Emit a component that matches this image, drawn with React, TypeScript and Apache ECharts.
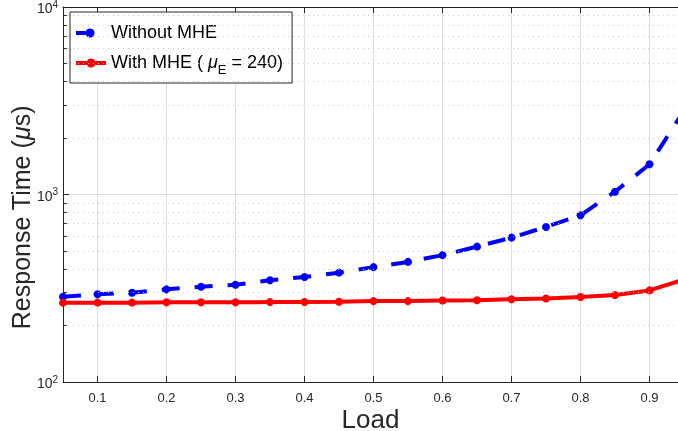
import React, { useEffect, useRef } from 'react';
import * as echarts from 'echarts';

const loads = [0.05, 0.1, 0.15, 0.2, 0.25, 0.3, 0.35, 0.4, 0.45, 0.5, 0.55, 0.6, 0.65, 0.7, 0.75, 0.8, 0.85, 0.9, 0.95];
const withoutMHE = [285, 294, 299, 312, 322, 330, 349, 363, 383, 410, 437, 475, 527, 589, 671, 775, 1035, 1449, 2800];
const withMHE = [265, 265, 265, 266, 266, 266, 267, 267, 268, 270, 270, 272, 273, 276, 279, 284, 291, 308, 352];
const xTickValues = [0.1, 0.2, 0.3, 0.4, 0.5, 0.6, 0.7, 0.8, 0.9];
const minorGridValues = [200, 300, 400, 500, 600, 700, 800, 900, 2000, 3000, 4000, 5000, 6000, 7000, 8000, 9000];

const X_MIN = 0.05;
const X_MAX_VISIBLE = 0.9413;
const NAME_WITHOUT = 'Without MHE';
const NAME_WITH = 'With MHE (μE = 240)';
const FONT = '"Liberation Sans", Arial, Helvetica, sans-serif';
const AXIS_COLOR = '#262626';
const GRID_COLOR = '#dedede';
// legend glyphs: 30x9 box, 4px line pieces + 9px marker (non-overlapping sub-paths)
const ICON_SOLID =
  'path://M0,2.5L10.6,2.5L10.6,6.5L0,6.5Z M19.4,2.5L30,2.5L30,6.5L19.4,6.5Z M15,0A4.5,4.5 0 1,1 14.99,0Z';
const ICON_DASHED = 'path://M0,2.5L9.6,2.5L9.6,6.5L0,6.5Z M14,0A4.5,4.5 0 1,1 13.99,0Z M30,4.5';

export default function App() {
  const ref = useRef<HTMLDivElement>(null);
  useEffect(() => {
    document.body.style.margin = '0';
    const chart = echarts.init(ref.current!, null, { renderer: 'svg' });
    const minorLines: any[] = [];
    minorGridValues.forEach((v) => {
      minorLines.push({
        yAxis: v,
        lineStyle: { color: '#c8c8c8', type: [1, 4], width: 1 },
      });
      minorLines.push([
        { coord: [X_MIN, v], lineStyle: { color: AXIS_COLOR, type: 'solid', width: 1 } },
        { coord: [X_MIN + 0.0055, v] },
      ]);
    });
    const xAxisCommon = {
      type: 'value',
      min: X_MIN,
      max: X_MAX_VISIBLE,
      axisLine: { show: true, onZero: false, lineStyle: { color: AXIS_COLOR, width: 1 } },
      axisTick: { show: true, inside: true, length: 6, customValues: xTickValues, lineStyle: { color: AXIS_COLOR } },
    };
    chart.setOption({
      animation: false,
      textStyle: { fontFamily: FONT },
      grid: { left: 63, top: 7, right: 0, bottom: 49, containLabel: false, outerBoundsMode: 'none' },
      legend: {
        left: 70,
        top: 12,
        orient: 'vertical',
        data: [
          { name: NAME_WITHOUT, icon: ICON_DASHED, itemStyle: { color: '#0000ff', borderWidth: 0 } },
          { name: NAME_WITH, icon: ICON_SOLID, itemStyle: { color: '#ff0000', borderWidth: 0 } },
        ],
        backgroundColor: '#ffffff',
        borderColor: AXIS_COLOR,
        borderWidth: 1,
        borderRadius: 0,
        padding: [11, 9, 7, 6],
        itemWidth: 30,
        itemHeight: 9,
        itemGap: 12,
        formatter: (name: string) =>
          name === NAME_WITH
            ? '{n|With MHE ( }{mu|μ}{sub|E}{n| = 240)}'
            : '{n|' + name + '}',
        textStyle: {
          fontFamily: FONT,
          rich: {
            n: { fontSize: 18, color: '#000', fontFamily: FONT, verticalAlign: 'top', lineHeight: 20 },
            mu: { fontSize: 18, color: '#000', fontFamily: FONT, fontStyle: 'italic', verticalAlign: 'top', lineHeight: 20 },
            sub: { fontSize: 13, color: '#000', fontFamily: FONT, verticalAlign: 'top', padding: [10, 0, 0, 0], lineHeight: 13 },
          },
        },
      },
      xAxis: [
        {
          ...xAxisCommon,
          position: 'bottom',
          axisLabel: {
            customValues: xTickValues,
            margin: 9,
            fontSize: 13,
            color: AXIS_COLOR,
            fontFamily: FONT,
            formatter: (v: number) => v.toFixed(1),
          },
          splitLine: { show: true, lineStyle: { color: GRID_COLOR, width: 1 } },
          name: 'Load',
          nameLocation: 'middle',
          nameGap: 24,
          nameMoveOverlap: false,
          nameTextStyle: { fontSize: 26, color: AXIS_COLOR, fontFamily: FONT },
        },
        {
          ...xAxisCommon,
          position: 'top',
          axisLabel: { show: false },
          splitLine: { show: false },
        },
      ],
      yAxis: {
        type: 'log',
        logBase: 10,
        min: 100,
        max: 10000,
        axisLine: { show: true, lineStyle: { color: AXIS_COLOR, width: 1 } },
        axisTick: { show: true, inside: true, length: 6, lineStyle: { color: AXIS_COLOR } },
        axisLabel: {
          margin: 5,
          color: AXIS_COLOR,
          formatter: (v: number) => '{b|10}{s|' + Math.round(Math.log10(v)) + '}',
          rich: {
            b: { fontSize: 14, color: AXIS_COLOR, fontFamily: FONT, verticalAlign: 'bottom' },
            s: { fontSize: 10, color: AXIS_COLOR, fontFamily: FONT, verticalAlign: 'top', padding: [0, 0, 6, 0] },
          },
        },
        splitLine: { show: true, lineStyle: { color: GRID_COLOR, width: 1 } },
        name: '{n|Response Time (}{mu|μ}{n|s)}',
        nameLocation: 'middle',
        nameRotate: 90,
        nameGap: 30,
        nameMoveOverlap: false,
        nameTextStyle: {
          padding: [0, 46, 0, 0],
          rich: {
            n: { fontSize: 25, color: AXIS_COLOR, fontFamily: FONT },
            mu: { fontSize: 25, color: AXIS_COLOR, fontFamily: FONT, fontStyle: 'italic' },
          },
        },
      },
      series: [
        {
          name: 'grid-minor',
          type: 'line',
          data: [],
          silent: true,
          z: 1,
          markLine: {
            silent: true,
            symbol: ['none', 'none'],
            label: { show: false },
            emphasis: { disabled: true },
            data: minorLines,
          },
        },
        {
          name: NAME_WITHOUT,
          type: 'line',
          z: 3,
          data: loads.map((x, i) => [x, withoutMHE[i]]),
          symbol: 'circle',
          symbolSize: 8,
          showAllSymbol: true,
          lineStyle: { color: '#0000ff', width: 4, type: [18, 15] },
          itemStyle: { color: '#0000ff', borderWidth: 0 },
          emphasis: { disabled: true },
        },
        {
          name: NAME_WITH,
          type: 'line',
          z: 4,
          data: loads.map((x, i) => [x, withMHE[i]]),
          symbol: 'circle',
          symbolSize: 8,
          showAllSymbol: true,
          lineStyle: { color: '#ff0000', width: 4 },
          itemStyle: { color: '#ff0000', borderWidth: 0 },
          emphasis: { disabled: true },
        },
      ],
    });
    return () => chart.dispose();
  }, []);
  return <div ref={ref} style={{ position: 'fixed', left: 0, top: 0, width: 678, height: 431 }} />;
}
